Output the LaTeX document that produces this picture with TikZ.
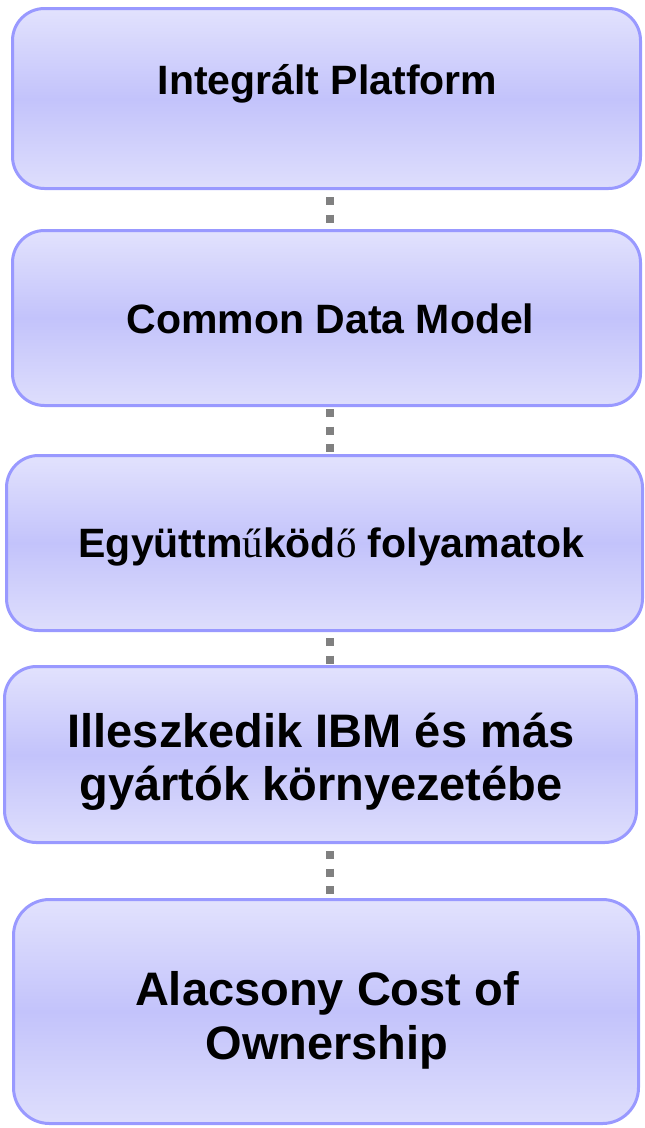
\documentclass[tikz,border=0pt]{standalone}
\usepackage{fontspec}
\setmainfont{Liberation Sans}
\newfontfamily\fallbackfont{Liberation Serif}
\definecolor{boxtop}{RGB}{226,226,253}
\definecolor{boxmid}{RGB}{195,195,251}
\definecolor{boxbot}{RGB}{222,222,252}
\definecolor{boxline}{RGB}{153,153,255}
\definecolor{dotgray}{RGB}{128,128,128}
\tikzset{
  stagebox/.style={rectangle, rounded corners=32pt, draw=boxline, line width=3pt,
    top color=boxtop, bottom color=boxbot, middle color=boxmid, inner sep=0pt},
  labeltext/.style={font=\bfseries, text=black, inner sep=0pt, align=center},
  dotline/.style={draw=dotgray, line width=8pt, dash pattern=on 8pt off 9.5pt}
}
\begin{document}
\begin{tikzpicture}[x=1pt,y=-1pt]
\useasboundingbox (0,0) rectangle (645,1128);
\coordinate (spine) at (330,0);
% boxes
\node[stagebox, minimum width=628pt, minimum height=180pt] (b1) at (326.5,98.5) {};
\node[stagebox, minimum width=628pt, minimum height=175pt] (b2) at (326.5,318) {};
\node[stagebox, minimum width=636pt, minimum height=175pt] (b3) at (324.5,543) {};
\node[stagebox, minimum width=632pt, minimum height=176pt] (b4) at (320.5,754.5) {};
\node[stagebox, minimum width=625pt, minimum height=224pt, rounded corners=36pt] (b5) at (326,1011.5) {};
% connectors
\draw[dotline, dash phase=10.5pt] (b1.south -| spine) -- (b2.north -| spine);
\draw[dotline, dash phase=15.5pt] (b2.south -| spine) -- (b3.north -| spine);
\draw[dotline, dash phase=11.5pt] (b3.south -| spine) -- (b4.north -| spine);
\draw[dotline, dash phase=10.5pt] (b4.south -| spine) -- (b5.north -| spine);
% texts
\node[labeltext, anchor=base, font=\bfseries\fontsize{41}{48}\selectfont] (t1) at (327.5,94) {Integrált Platform};
\node[labeltext, anchor=base, font=\bfseries\fontsize{41}{48}\selectfont] (t2) at (330.5,333) {Common Data Model};
\node[labeltext, anchor=base, font=\bfseries\fontsize{41}{48}\selectfont] (t3) at (331.5,557) {Együttm{\mdseries\fallbackfont ű}köd{\mdseries\fallbackfont ő} folyamatok};
\node[labeltext, anchor=center, font=\bfseries\fontsize{47}{53}\selectfont] (t4) at (321,762) {Illeszkedik IBM és más\\gyártók környezetébe};
\node[labeltext, anchor=center, font=\bfseries\fontsize{47}{54}\selectfont] (t5) at (327,1020) {Alacsony Cost of\\Ownership};
\end{tikzpicture}
\end{document}
